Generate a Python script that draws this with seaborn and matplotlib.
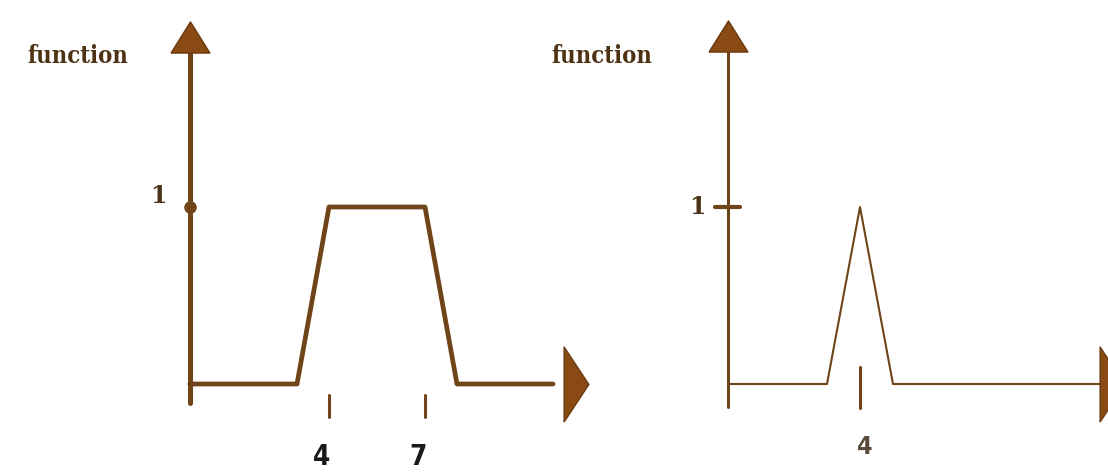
import numpy as np
import matplotlib
matplotlib.use("Agg")
import matplotlib.pyplot as plt
import seaborn as sns

sns.set_theme(style="white")
plt.rcParams['font.family'] = ['DejaVu Sans']

# ---- data ----
trap_x = [-0.35, 3, 4, 7, 8, 11.0]
trap_y = [0, 0, 1, 1, 0, 0]
trap_ticks = [4, 7]
tri_x = [0, 3, 4, 5, 11.3]
tri_y = [0, 0, 1, 0, 0]
tri_ticks = [4]
y_label_value = 1
title_text = "function"

LINE = "#6e4418"
ARROW = "#8a4a14"
TXT = "#4a3318"

W, H = 1108, 472
fig = plt.figure(figsize=(W / 100, H / 100), dpi=100)
fig.patch.set_facecolor("white")

def make_ax(px0, px1, x_origin_px, scale):
    ax = fig.add_axes([px0 / W, 0, (px1 - px0) / W, 1])
    ax.set_xlim((px0 - x_origin_px) / scale, (px1 - x_origin_px) / scale)
    ax.set_ylim((384 - 472) / 177, 384 / 177)
    ax.axis("off")
    return ax

up_marker = [(-1, -0.8), (0, 0.8), (1, -0.8), (-1, -0.8)]
right_marker = [(-0.33, -1), (0.33, 0), (-0.33, 1), (-0.33, -1)]

# ---- left panel: trapezoid ----
axL = make_ax(0, 610, 201, 32)
x_axis_L = trap_x[0]
axL.plot([x_axis_L, x_axis_L], [-0.107, 1.9], color=LINE, lw=3.6, solid_capstyle="round")
sns.lineplot(x=trap_x, y=trap_y, ax=axL, color=LINE, lw=3.4, estimator=None, sort=False)
axL.plot([x_axis_L], [1.96], marker=up_marker, ms=28, color=ARROW, mec="#6a3a10", mew=1, clip_on=False)
axL.plot([11.72], [0], marker=right_marker, ms=54, color=ARROW, mec="#6a3a10", mew=1, clip_on=False)
axL.plot([x_axis_L], [y_label_value], marker="o", ms=8, color=LINE)
axL.text(-1.34, 1.06, str(y_label_value), family="DejaVu Serif", fontweight="bold",
         fontsize=17, color=TXT, ha="center", va="center")
for t in trap_ticks:
    axL.plot([t, t], [-0.062, -0.186], color=LINE, lw=2.2)
    axL.text(t - 0.22, -0.41, str(t), family="DejaVu Sans", fontstretch="condensed",
             fontweight="bold", fontsize=20, color="#1a1a1a", ha="center", va="center")

# ---- right panel: triangle ----
axR = make_ax(610, 1108, 728, 33)
x_axis_R = tri_x[0]
axR.plot([x_axis_R, x_axis_R], [-0.13, 1.9], color=LINE, lw=2.2)
sns.lineplot(x=tri_x, y=tri_y, ax=axR, color=LINE, lw=1.5, estimator=None, sort=False)
axR.plot([x_axis_R], [1.966], marker=up_marker, ms=28, color=ARROW, mec="#6a3a10", mew=1, clip_on=False)
axR.plot([11.64], [0], marker=right_marker, ms=54, color=ARROW, mec="#6a3a10", mew=1)
axR.plot([-0.39, 0.36], [y_label_value, y_label_value], color=LINE, lw=3)
axR.text(-0.94, 1.0, str(y_label_value), family="DejaVu Serif", fontweight="bold",
         fontsize=17, color=TXT, ha="center", va="center")
for t in tri_ticks:
    axR.plot([t, t], [0.096, -0.136], color=LINE, lw=2.2)
    axR.text(t + 0.15, -0.356, str(t), family="DejaVu Sans", fontstretch="condensed",
             fontweight="bold", fontsize=18, color="#5a4a3a", ha="center", va="center")

# ---- titles ----
for cx in (78, 602):
    fig.text(cx / W, 1 - 56 / H, title_text, family="DejaVu Serif", fontweight="bold",
             fontstretch="condensed", fontsize=17, color="#4e3214", ha="center", va="center")

fig.savefig("out.png", dpi=100, facecolor="white")
